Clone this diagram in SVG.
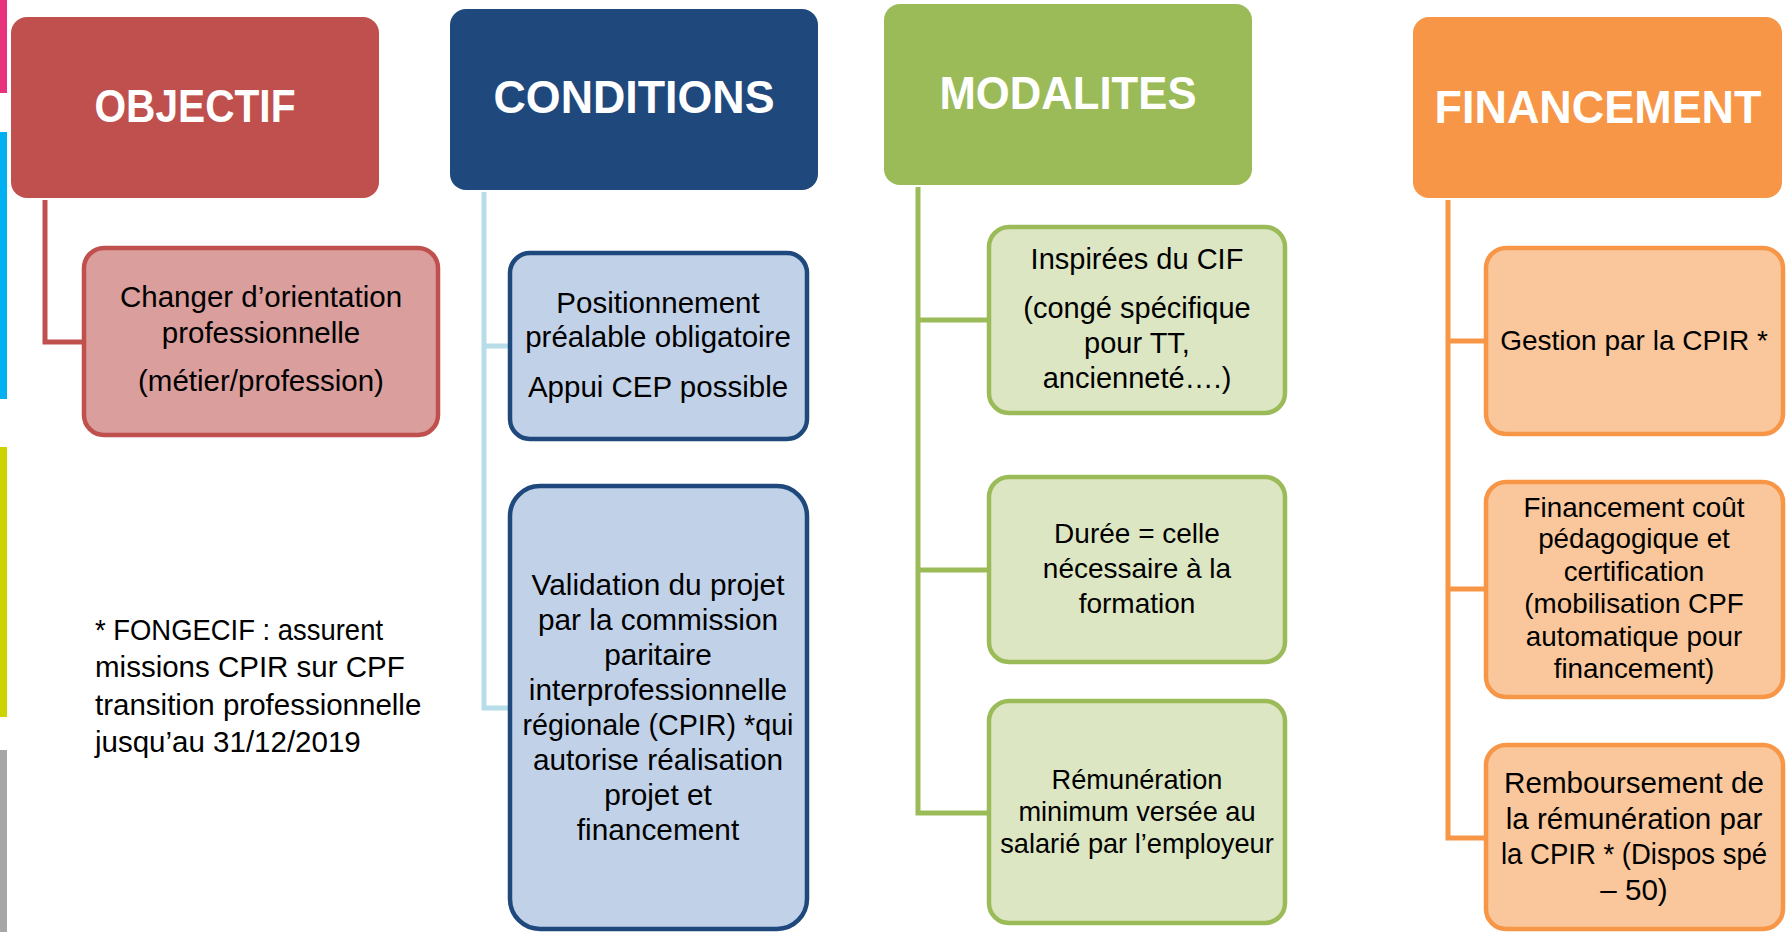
<svg xmlns="http://www.w3.org/2000/svg" width="1791" height="932" viewBox="0 0 1791 932">
<style>
.hdr{font-family:"Liberation Sans",Arial,sans-serif;font-weight:bold;font-size:46px;fill:#fff;text-anchor:middle}
.t{font-family:"Liberation Sans",Arial,sans-serif;fill:#000;text-anchor:middle}
.fn{font-family:"Liberation Sans",Arial,sans-serif;fill:#000;font-size:29.5px}
.conn{fill:none;stroke-width:5;stroke-linejoin:miter}
.cb{stroke-width:4.5}
</style>
<rect width="1791" height="932" fill="#fff"/>
<g id="side-bars">
<rect x="0" y="0" width="7" height="93" fill="#E8327D"/>
<rect x="0" y="132" width="7" height="267" fill="#00B0F0"/>
<rect x="0" y="447" width="7" height="270" fill="#CCD400"/>
<rect x="0" y="750" width="7" height="182" fill="#A6A6A6"/>
</g>
<g id="connectors">
<path class="conn" stroke="#C0504D" d="M45,200 V342 H84"/>
<path class="conn" stroke="#B7DDE8" d="M484,192 V708 H510 M484,346 H510"/>
<path class="conn" stroke="#9BBB59" d="M918,187 V813 H989 M918,320 H989 M918,570 H989"/>
<path class="conn" stroke="#F79646" d="M1448,200 V838 H1486 M1448,341 H1486 M1448,589 H1486"/>
</g>
<g id="objectif">
<rect x="11" y="17" width="368" height="181" rx="16" fill="#C0504D"/>
<text class="hdr" x="195" y="122" textLength="201" lengthAdjust="spacingAndGlyphs">OBJECTIF</text>
</g>
<g id="conditions">
<rect x="450" y="9" width="368" height="181" rx="16" fill="#1F497D"/>
<text class="hdr" x="634" y="113" textLength="281" lengthAdjust="spacingAndGlyphs">CONDITIONS</text>
</g>
<g id="modalites">
<rect x="884" y="4" width="368" height="181" rx="16" fill="#9BBB59"/>
<text class="hdr" x="1068" y="109" textLength="257" lengthAdjust="spacingAndGlyphs">MODALITES</text>
</g>
<g id="financement">
<rect x="1413" y="17" width="369" height="181" rx="16" fill="#F79646"/>
<text class="hdr" x="1598" y="123" textLength="327" lengthAdjust="spacingAndGlyphs">FINANCEMENT</text>
</g>
<g id="objectif-1">
<rect class="cb" x="84" y="248" width="354" height="187" rx="20" fill="#DA9E9C" stroke="#C0504D"/>
<text class="t" font-size="29.5"><tspan x="261" y="307">Changer d’orientation</tspan><tspan x="261" y="343">professionnelle</tspan><tspan x="261" y="391">(métier/profession)</tspan></text>
</g>
<g id="conditions-1">
<rect class="cb" x="510" y="253" width="297" height="186" rx="20" fill="#C1D2E8" stroke="#1F497D"/>
<text class="t" font-size="29.5"><tspan x="658" y="313">Positionnement</tspan><tspan x="658" y="347">préalable obligatoire</tspan><tspan x="658" y="397">Appui CEP possible</tspan></text>
</g>
<g id="conditions-2">
<rect class="cb" x="510" y="486" width="297" height="443" rx="30" fill="#C1D2E8" stroke="#1F497D"/>
<text class="t" font-size="29.8"><tspan x="658" y="595">Validation du projet</tspan><tspan x="658" y="630">par la commission</tspan><tspan x="658" y="665">paritaire</tspan><tspan x="658" y="700">interprofessionnelle</tspan><tspan x="658" y="735" textLength="271" lengthAdjust="spacingAndGlyphs">régionale (CPIR) *qui</tspan><tspan x="658" y="770">autorise réalisation</tspan><tspan x="658" y="805">projet et</tspan><tspan x="658" y="840">financement</tspan></text>
</g>
<g id="modalites-1">
<rect class="cb" x="989" y="227" width="296" height="186" rx="20" fill="#DCE6C3" stroke="#9BBB59"/>
<text class="t" font-size="29"><tspan x="1137" y="269">Inspirées du CIF</tspan><tspan x="1137" y="318">(congé spécifique</tspan><tspan x="1137" y="353">pour TT,</tspan><tspan x="1137" y="388">ancienneté….)</tspan></text>
</g>
<g id="modalites-2">
<rect class="cb" x="989" y="477" width="296" height="185" rx="20" fill="#DCE6C3" stroke="#9BBB59"/>
<text class="t" font-size="28"><tspan x="1137" y="543">Durée = celle</tspan><tspan x="1137" y="578">nécessaire à la</tspan><tspan x="1137" y="613">formation</tspan></text>
</g>
<g id="modalites-3">
<rect class="cb" x="989" y="701" width="296" height="222" rx="20" fill="#DCE6C3" stroke="#9BBB59"/>
<text class="t" font-size="27.2"><tspan x="1137" y="789">Rémunération</tspan><tspan x="1137" y="821">minimum versée au</tspan><tspan x="1137" y="853">salarié par l’employeur</tspan></text>
</g>
<g id="financement-1">
<rect class="cb" x="1486" y="248" width="297" height="186" rx="20" fill="#F9C79B" stroke="#F79646"/>
<text class="t" font-size="28" x="1634" y="350">Gestion par la CPIR *</text>
</g>
<g id="financement-2">
<rect class="cb" x="1486" y="482" width="297" height="215" rx="20" fill="#F9C79B" stroke="#F79646"/>
<text class="t" font-size="27.8"><tspan x="1634" y="517">Financement coût</tspan><tspan x="1634" y="548">pédagogique et</tspan><tspan x="1634" y="581">certification</tspan><tspan x="1634" y="613">(mobilisation CPF</tspan><tspan x="1634" y="646">automatique pour</tspan><tspan x="1634" y="678">financement)</tspan></text>
</g>
<g id="financement-3">
<rect class="cb" x="1486" y="745" width="297" height="184" rx="20" fill="#F9C79B" stroke="#F79646"/>
<text class="t" font-size="29.6"><tspan x="1634" y="793">Remboursement de</tspan><tspan x="1634" y="829">la rémunération par</tspan><tspan x="1634" y="864" textLength="266" lengthAdjust="spacingAndGlyphs">la CPIR * (Dispos spé</tspan><tspan x="1634" y="900">– 50)</tspan></text>
</g>
<g id="footnote">
<text class="fn"><tspan x="95" y="640" textLength="288" lengthAdjust="spacingAndGlyphs">* FONGECIF : assurent</tspan><tspan x="95" y="677">missions CPIR sur CPF</tspan><tspan x="95" y="715">transition professionnelle</tspan><tspan x="95" y="752">jusqu’au 31/12/2019</tspan></text>
</g>
</svg>
